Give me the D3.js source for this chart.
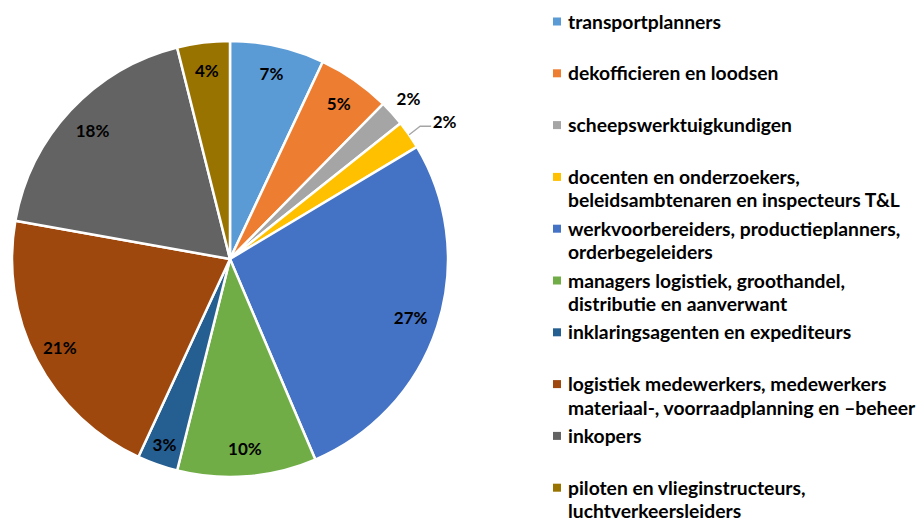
<!DOCTYPE html>
<html><head><meta charset="utf-8">
<script src="https://cdn.jsdelivr.net/npm/d3@7"></script>
<style>body{margin:0;background:#fff}svg{display:block}text{font-family:Lato,"Open Sans",sans-serif;font-weight:bold;fill:#000}</style>
</head><body><svg id="c" width="918" height="523"></svg>
<script>
const categories = [
  ["transportplanners"],
  ["dekofficieren en loodsen"],
  ["scheepswerktuigkundigen"],
  ["docenten en onderzoekers,","beleidsambtenaren en inspecteurs T&L"],
  ["werkvoorbereiders, productieplanners,","orderbegeleiders"],
  ["managers logistiek, groothandel,","distributie en aanverwant"],
  ["inklaringsagenten en expediteurs"],
  ["logistiek medewerkers, medewerkers","materiaal-, voorraadplanning en \u2013beheer"],
  ["inkopers"],
  ["piloten en vlieginstructeurs,","luchtverkeersleiders"]
];
const values = [7.0, 5.4, 1.9, 2.1, 27.2, 10.3, 3.0, 20.9, 18.3, 3.9];
const colors = ["#5B9BD5","#ED7D31","#A5A5A5","#FFC000","#4472C4","#70AD47","#255E91","#9E480E","#636363","#997300"];

const svg = d3.select("#c");
const cx = 230, cy = 259, R = 218;
const total = d3.sum(values);
const pie = d3.pie().sort(null).value(d => d)(values);
const arc = d3.arc().innerRadius(0).outerRadius(R);
const g = svg.append("g").attr("transform", `translate(${cx},${cy})`);
g.selectAll("path").data(pie).join("path")
  .attr("d", arc).attr("fill", (d,i) => colors[i])
  .attr("stroke", "#fff").attr("stroke-width", 2.5).attr("stroke-linejoin","round");

const fmt = v => Math.round(v / total * 100) + "%";
const labelR = [190, 190, 240, null, 190, 190, 197, 192, 188, 190];
pie.forEach((d, i) => {
  const a = (d.startAngle + d.endAngle) / 2;
  const t = g.append("text").style("font-size", "17px").attr("dominant-baseline", "central").text(fmt(d.value));
  if (labelR[i] == null) {
    const e = [Math.sin(a) * R, -Math.cos(a) * R];
    const m = [e[0] + 11, e[1] - 8.5];
    const n = [m[0] + 11, m[1]];
    g.append("polyline").attr("points", [e, m, n].map(p => p.join(",")).join(" "))
      .attr("fill", "none").attr("stroke", "#A5A5A5").attr("stroke-width", 1.3);
    t.attr("x", n[0] + 1.5).attr("y", n[1] - 4.5).attr("text-anchor", "start");
  } else {
    t.attr("x", Math.sin(a) * labelR[i]).attr("y", -Math.cos(a) * labelR[i]).attr("text-anchor", "middle");
  }
});

const leg = svg.append("g");
categories.forEach((lines, i) => {
  const y0 = 21 + i * 51.8;
  leg.append("rect").attr("x", 553).attr("y", y0 - 3.5).attr("width", 8).attr("height", 8).attr("fill", colors[i]);
  lines.forEach((t, j) => {
    leg.append("text").attr("x", 568).attr("y", y0 + j * 23.5).attr("dominant-baseline", "central")
      .style("font-size", "19.3px").text(t);
  });
});
</script></body></html>
